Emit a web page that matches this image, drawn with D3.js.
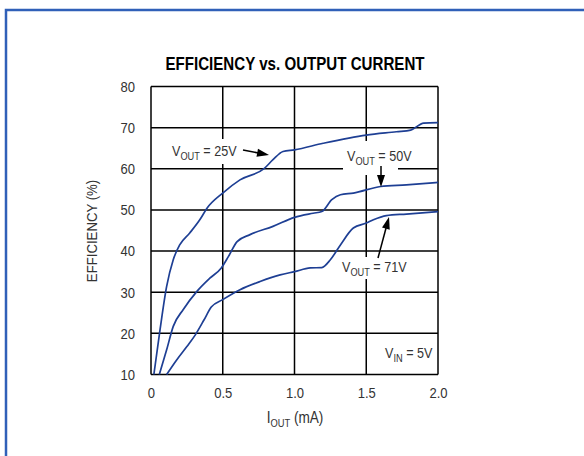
<!DOCTYPE html>
<html><head><meta charset="utf-8">
<script src="https://cdn.jsdelivr.net/npm/d3@7/dist/d3.min.js"></script>
<style>
body{margin:0;background:#fff;}
svg{display:block;}
text{font-family:"Liberation Sans Narrow","Arial Narrow","Liberation Sans",Arial,sans-serif;fill:#333;}
</style></head><body>
<svg id="c" width="584" height="456"></svg>
<script>
const title = "EFFICIENCY vs. OUTPUT CURRENT";
const xTicks = [0, 0.5, 1.0, 1.5, 2.0];
const xTickLabels = ["0", "0.5", "1.0", "1.5", "2.0"];
const yTicks = [10, 20, 30, 40, 50, 60, 70, 80];

const v25x = [0.02,0.063,0.109,0.155,0.20,0.27,0.34,0.39,0.50,0.62,0.79,0.85,0.92,1.0,1.2,1.5,1.71,1.81,1.90,2.0];
const v25y = [10,20.9,31.4,37.9,41.5,44.4,47.6,50.4,54.1,57.3,60.1,62.2,64.2,64.6,66.2,68.2,69.0,69.4,71.1,71.2];
const v50x = [0.058,0.109,0.155,0.225,0.32,0.41,0.49,0.54,0.60,0.69,0.85,1.0,1.13,1.19,1.26,1.32,1.41,1.60,1.78,2.0];
const v50y = [10,16,21.7,25.8,30.2,33.4,35.9,38.7,42.3,44,46,48.2,49.2,49.6,52.5,53.7,54.1,55.7,56.1,56.7];
const v71x = [0.109,0.18,0.25,0.31,0.37,0.42,0.50,0.62,0.76,0.90,1.0,1.11,1.19,1.25,1.32,1.41,1.50,1.55,1.64,1.78,2.0];
const v71y = [10,13.6,16.8,19.7,23.3,26.4,28.2,30.6,32.6,34.2,35,35.9,36.0,37.9,41.5,45.6,46.8,47.6,48.6,49.0,49.6];

const SX = 0.85; // condensed look
const svg = d3.select("#c");
const L = 151, R = 438, T = 86.5, B = 374.5;
const x = d3.scaleLinear().domain([0, 2]).range([L, R]);
const y = d3.scaleLinear().domain([10, 80]).range([B, T]);

const gridL = svg.append("g"), boxL = svg.append("g"), curveL = svg.append("g"), textL = svg.append("g");

// outer frame
svg.insert("rect", "g").attr("x",6).attr("y",10).attr("width",600).attr("height",460)
  .attr("fill","none").attr("stroke","#3060b8").attr("stroke-width",2.5);

function ctext(parent, tx, ty, opts){
  const gg = parent.append("g").attr("transform",`translate(${tx},${ty}) scale(${opts.sx||SX},1)`);
  const t = gg.append("text").attr("text-anchor",opts.anchor||"middle").attr("font-size",opts.size||15);
  if(opts.weight) t.attr("font-weight",opts.weight);
  if(opts.fill) t.style("fill",opts.fill);
  return t;
}

// title
ctext(textL, 295, 70, {size:18, weight:"bold", fill:"#000", sx:0.84}).text(title);

// grid
gridL.selectAll("line.vx").data(xTicks).join("line")
  .attr("x1",d=>x(d)).attr("x2",d=>x(d)).attr("y1",T).attr("y2",B)
  .attr("stroke","#000").attr("stroke-width",1.5);
gridL.selectAll("line.hy").data(yTicks).join("line").attr("class","hy")
  .attr("x1",L).attr("x2",R).attr("y1",d=>y(d)).attr("y2",d=>y(d))
  .attr("stroke","#000").attr("stroke-width",1.5);

// axis tick labels via d3 axis
const ax = textL.append("g").attr("transform",`translate(0,${B})`)
  .call(d3.axisBottom(x).tickValues(xTicks).tickFormat((d,i)=>xTickLabels[i]).tickSize(0).tickPadding(13));
const ay = textL.append("g").attr("transform",`translate(${L},0)`)
  .call(d3.axisLeft(y).tickValues(yTicks).tickSize(0).tickPadding(16/0.87));
[ax, ay].forEach(a=>{a.select(".domain").remove();
  a.selectAll("text").attr("font-size",15).attr("font-family",null).attr("transform","scale(0.87,1)").style("fill","#333");});

// axis titles
textL.append("g").attr("transform","translate(97,231) rotate(-90) scale(0.88,1)")
  .append("text").attr("text-anchor","middle").attr("font-size",15).text("EFFICIENCY (%)");
const xt = ctext(textL, 295, 423, {size:16});
xt.append("tspan").text("I");
xt.append("tspan").attr("font-size",11).attr("dy",4).text("OUT");
xt.append("tspan").attr("dy",-4).text(" (mA)");

// curves
const line = d3.line().x(d=>x(d[0])).y(d=>y(d[1])).curve(d3.curveMonotoneX);
const series = [[v25x,v25y],[v50x,v50y],[v71x,v71y]];
curveL.selectAll("path").data(series).join("path")
  .attr("d",s=>line(s[0].map((v,i)=>[v,s[1][i]])))
  .attr("fill","none").attr("stroke","#1e3f94").attr("stroke-width",1.7);

// annotation boxes (white, hide grid behind labels)
function box(x0,y0,x1,y1){ boxL.append("rect").attr("x",x0).attr("y",y0).attr("width",x1-x0).attr("height",y1-y0).attr("fill","#fff"); }
box(167,139,241,164);
box(343,141,398,175);
box(337,257,411,279);

function label(lx, by, main, sub, rest){
  const t = ctext(textL, lx, by, {anchor:"start", size:15, sx:0.84});
  t.append("tspan").text(main);
  t.append("tspan").attr("font-size",11).attr("dy",4).text(sub);
  t.append("tspan").attr("dy",-4).text(rest);
}
function arrow(x1,y1,x2,y2){
  const ang = Math.atan2(y2-y1,x2-x1), len=12, w=4;
  textL.append("line").attr("x1",x1).attr("y1",y1).attr("x2",x2-Math.cos(ang)*len*0.8).attr("y2",y2-Math.sin(ang)*len*0.8)
    .attr("stroke","#000").attr("stroke-width",1.5);
  const bx = x2-Math.cos(ang)*len, by = y2-Math.sin(ang)*len;
  const px = -Math.sin(ang)*w, py = Math.cos(ang)*w;
  textL.append("path").attr("d",`M${x2},${y2}L${bx+px},${by+py}L${bx-px},${by-py}Z`).attr("fill","#000");
}
label(172,156,"V","OUT"," = 25V");
label(347,161,"V","OUT"," = 50V");
label(342,272,"V","OUT"," = 71V");
label(385,358,"V","IN"," = 5V");
arrow(243,150,269,155);
arrow(381,166,381,187);
arrow(378,258,389,217);
</script></body></html>
